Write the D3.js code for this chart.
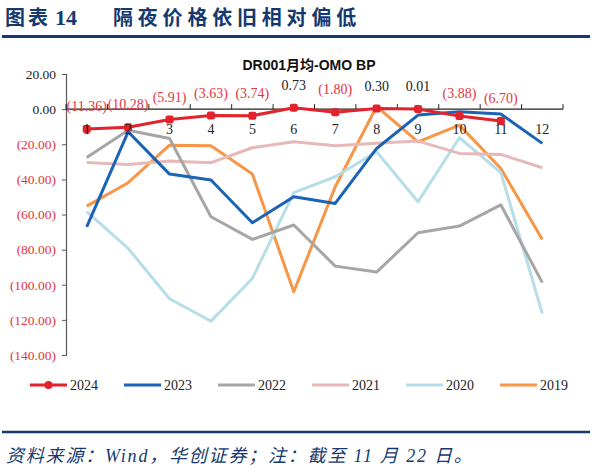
<!DOCTYPE html>
<html>
<head>
<meta charset="utf-8">
<script src="https://cdn.jsdelivr.net/npm/d3@7"></script>
<style>
  body { margin: 0; background: #fff; }
  svg { display: block; }
</style>
</head>
<body>
<script>
const width = 592;
const height = 474;

// months on the x axis
const months = ["1", "2", "3", "4", "5", "6", "7", "8", "9", "10", "11", "12"];

// DR001 monthly average minus OMO rate, bp
const s2024 = [-11.36, -10.28, -5.91, -3.63, -3.74, 0.73, -1.80, 0.30, 0.01, -3.88, -6.70];
const s2023 = [-67.0, -12.9, -37.0, -40.4, -64.7, -49.9, -53.7, -22.4, -3.4, -1.5, -2.8, -19.5];
const s2022 = [-27.5, -12.0, -16.7, -61.3, -74.2, -66.0, -89.4, -92.8, -70.4, -66.6, -54.5, -98.8];
const s2021 = [-30.4, -31.5, -29.6, -30.5, -22.0, -18.6, -20.9, -19.5, -18.2, -25.2, -25.8, -33.4];
const s2020 = [-58.4, -79.3, -108.0, -120.7, -96.4, -47.6, -38.5, -24.3, -52.7, -16.3, -36.2, -116.3];
const s2019 = [-55.2, -41.9, -20.5, -20.9, -37.0, -104.0, -44.2, 1.5, -18.6, -9.1, -33.8, -74.2];

// y axis ticks
const yTicks = [20, 0, -20, -40, -60, -80, -100, -120, -140];

const seriesNames = ["2024", "2023", "2022", "2021", "2020", "2019"];
const seriesData = [s2024, s2023, s2022, s2021, s2020, s2019];
const colors = ["#E3222B", "#1B63B5", "#A6A6A6", "#E6B9B8", "#B7DEE8", "#F79646"];

const navy = "#15396F";
const red = "#E5353D";
const serif = "'Liberation Serif', 'Times New Roman', serif";
const cjk = "'Noto Sans CJK SC', sans-serif";

let svg = d3.select("body").append("svg").attr("width", width).attr("height", height);
svg.append("rect").attr("width", width).attr("height", height).attr("fill", "#fff");

// page heading
svg.append("text")
    .attr("x", 5).attr("y", 25)
    .attr("fill", navy)
    .attr("font-family", cjk).attr("font-weight", "bold")
    .attr("font-size", 20).attr("letter-spacing", 3)
    .text("图表");
svg.append("text")
    .attr("x", 55).attr("y", 25)
    .attr("fill", navy)
    .attr("font-family", serif).attr("font-weight", "bold")
    .attr("font-size", 22)
    .text("14");
svg.append("text")
    .attr("x", 113).attr("y", 25)
    .attr("fill", navy)
    .attr("font-family", cjk).attr("font-weight", "bold")
    .attr("font-size", 20).attr("letter-spacing", 4.8)
    .text("隔夜价格依旧相对偏低");
svg.append("line")
    .attr("x1", 2).attr("x2", 590).attr("y1", 36.5).attr("y2", 36.5)
    .attr("stroke", navy).attr("stroke-width", 3);

// chart title
svg.append("text")
    .attr("x", 309).attr("y", 70)
    .attr("text-anchor", "middle")
    .attr("font-family", "'Liberation Sans', 'Noto Sans CJK SC', sans-serif")
    .attr("font-weight", "bold").attr("font-size", 14)
    .attr("fill", "#111")
    .text("DR001月均-OMO BP");

// scales
let x = d3.scaleBand().domain(months).range([66, 563]);
let y = d3.scaleLinear().domain([-140, 20]).range([355, 74]);
const cx = m => x(m) + x.bandwidth() / 2;

const fmt = v => v < 0 ? "(" + Math.abs(v).toFixed(2) + ")" : v.toFixed(2);

// y axis
let yAxis = svg.append("g")
    .attr("transform", "translate(66,0)")
    .call(d3.axisLeft(y).tickValues(yTicks).tickSize(4).tickPadding(6).tickFormat(fmt));
yAxis.select(".domain").attr("stroke", "#595959").attr("stroke-width", 1.2);
yAxis.selectAll(".tick line").attr("stroke", "#595959");
yAxis.selectAll(".tick text")
    .attr("font-family", serif).attr("font-size", 13.5)
    .attr("fill", d => d < 0 ? red : "#222");

// x axis along zero, ticks on band edges pointing up
let xAxis = svg.append("g");
xAxis.append("line")
    .attr("x1", 66).attr("x2", 563).attr("y1", y(0)).attr("y2", y(0))
    .attr("stroke", "#222").attr("stroke-width", 1.2);
xAxis.selectAll(".edge")
    .data(d3.range(months.length + 1))
    .enter()
    .append("line")
    .attr("x1", i => 66 + i * x.step()).attr("x2", i => 66 + i * x.step())
    .attr("y1", y(0)).attr("y2", y(0) - 5)
    .attr("stroke", "#222");

// lines, 2024 drawn last so it sits on top
let line = d3.line()
    .x((d, i) => cx(months[i]))
    .y(d => y(d));

let order = [5, 4, 3, 2, 1, 0];
order.forEach(k => {
    svg.append("path")
        .datum(seriesData[k])
        .attr("d", line)
        .attr("fill", "none")
        .attr("stroke", colors[k])
        .attr("stroke-width", 3)
        .attr("stroke-linejoin", "round");
});

// 2024 markers
svg.selectAll(".mk")
    .data(s2024)
    .enter()
    .append("rect")
    .attr("x", (d, i) => cx(months[i]) - 4)
    .attr("y", d => y(d) - 4)
    .attr("width", 8).attr("height", 8).attr("rx", 2)
    .attr("fill", colors[0]);

// month labels
svg.selectAll(".month")
    .data(months)
    .enter()
    .append("text")
    .attr("x", d => cx(d)).attr("y", y(0) + 25)
    .attr("text-anchor", "middle")
    .attr("font-family", serif).attr("font-size", 14)
    .attr("fill", "#222")
    .text(d => d);

// 2024 data labels
svg.selectAll(".lbl")
    .data(s2024)
    .enter()
    .append("text")
    .attr("x", (d, i) => cx(months[i]))
    .attr("y", d => y(d) - 18)
    .attr("text-anchor", "middle")
    .attr("font-family", serif).attr("font-size", 14)
    .attr("fill", d => d < 0 ? red : "#222")
    .text(d => fmt(d));

// legend
let legend = svg.selectAll(".lg")
    .data(seriesNames)
    .enter()
    .append("g")
    .attr("transform", (d, i) => "translate(" + (30 + i * 94) + ",385)");
legend.append("line")
    .attr("x1", 0).attr("x2", 37)
    .attr("stroke", (d, i) => colors[i])
    .attr("stroke-width", 3);
legend.filter((d, i) => i === 0)
    .append("circle")
    .attr("cx", 18.5).attr("r", 4)
    .attr("fill", colors[0]);
legend.append("text")
    .attr("x", 40).attr("y", 5)
    .attr("font-family", serif).attr("font-size", 14)
    .attr("fill", "#222")
    .text(d => d);

// footer
svg.append("line")
    .attr("x1", 2).attr("x2", 590).attr("y1", 432).attr("y2", 432)
    .attr("stroke", navy).attr("stroke-width", 2.5);
svg.append("text")
    .attr("x", 6).attr("y", 462)
    .attr("font-family", "'Liberation Serif', 'Noto Sans CJK SC', serif")
    .attr("font-style", "italic")
    .attr("font-size", 18).attr("letter-spacing", 1.8)
    .attr("fill", navy)
    .text("资料来源：Wind，华创证券；注：截至 11 月 22 日。");
</script>
</body>
</html>
